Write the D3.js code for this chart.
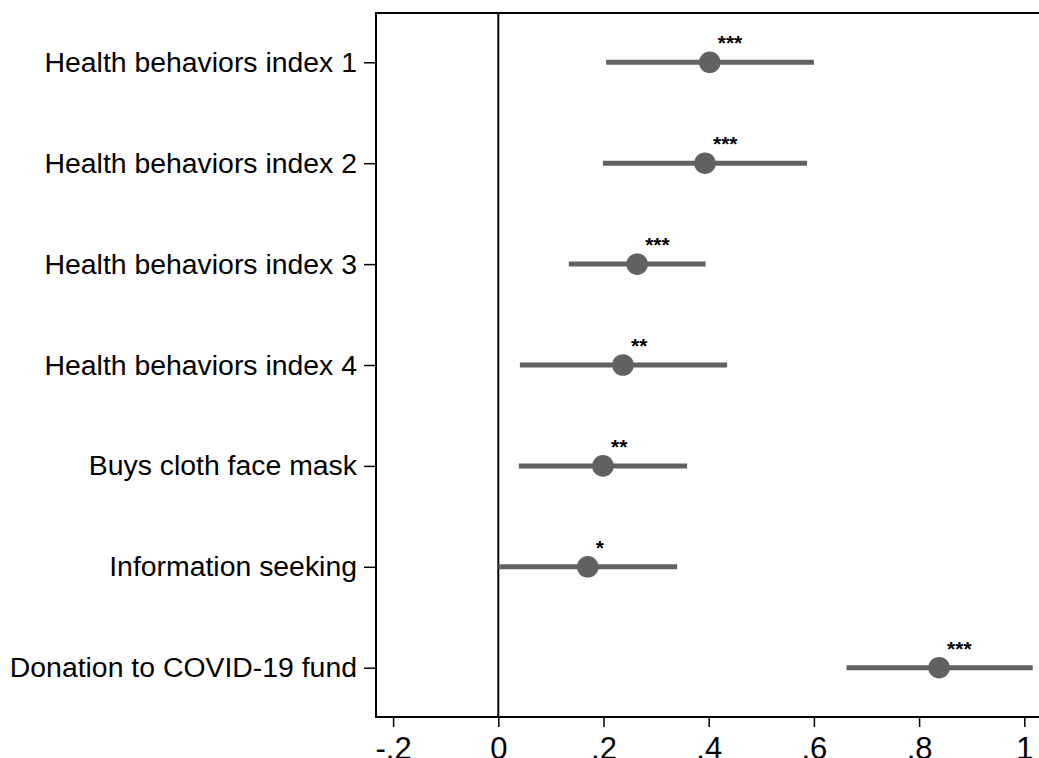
<!DOCTYPE html>
<html>
<head>
<meta charset="utf-8">
<script src="https://cdn.jsdelivr.net/npm/d3@7"></script>
<style>
  html, body { margin: 0; padding: 0; background: #fff; }
  svg { display: block; font-family: Arial, "Liberation Sans", sans-serif; }
</style>
</head>
<body>
<svg id="chart" width="1039" height="758"></svg>
<script>
// Coefficient estimates with 95% confidence intervals
const outcomes = [
  "Health behaviors index 1",
  "Health behaviors index 2",
  "Health behaviors index 3",
  "Health behaviors index 4",
  "Buys cloth face mask",
  "Information seeking",
  "Donation to COVID-19 fund"
];
const estimates = [0.402, 0.393, 0.264, 0.237, 0.199, 0.170, 0.838];
const ciLower   = [0.205, 0.199, 0.134, 0.041, 0.039, 0.000, 0.662];
const ciUpper   = [0.600, 0.587, 0.394, 0.435, 0.359, 0.340, 1.016];
const stars     = ["***", "***", "***", "**", "**", "*", "***"];
const xTicks    = [-0.2, 0, 0.2, 0.4, 0.6, 0.8, 1];
const xTickLabels = ["-.2", "0", ".2", ".4", ".6", ".8", "1"];

const svg = d3.select("#chart");
const frame = { left: 376, top: 13, bottom: 717, right: 1045 };

const x = d3.scaleLinear().domain([0, 1]).range([498.3, 1024.3]);
const y = d3.scalePoint().domain(outcomes).range([62.3, 667.7]);

const markColor = "#616161";
const fontFam = "Arial, 'Liberation Sans', sans-serif";

// Frame (top, left, bottom)
svg.append("path")
  .attr("d", `M${frame.right},${frame.top}H${frame.left}V${frame.bottom}H${frame.right}`)
  .attr("fill", "none").attr("stroke", "#000").attr("stroke-width", 2);

// Reference line at zero
svg.append("line")
  .attr("x1", x(0)).attr("x2", x(0))
  .attr("y1", frame.top).attr("y2", frame.bottom)
  .attr("stroke", "#000").attr("stroke-width", 2);

// X axis
const xAxis = d3.axisBottom(x)
  .tickValues(xTicks)
  .tickFormat((d, i) => xTickLabels[i])
  .tickSize(10).tickSizeOuter(0).tickPadding(10);
const gx = svg.append("g").attr("transform", `translate(0,${frame.bottom})`).call(xAxis);
gx.select(".domain").remove();
gx.selectAll(".tick line").attr("stroke", "#000").attr("stroke-width", 1.5);
gx.selectAll(".tick text")
  .attr("fill", "#000")
  .style("font-size", "31px")
  .style("font-family", fontFam);

// Y axis (category labels)
const yAxis = d3.axisLeft(y).tickSize(12).tickSizeOuter(0).tickPadding(7);
const gy = svg.append("g").attr("transform", `translate(${frame.left},0)`).call(yAxis);
gy.select(".domain").remove();
gy.selectAll(".tick line").attr("stroke", "#000").attr("stroke-width", 1.5);
gy.selectAll(".tick text")
  .attr("fill", "#000")
  .style("font-size", "28.4px")
  .style("font-family", fontFam);

// Confidence intervals
const rows = outcomes.map((o, i) => ({
  o, est: estimates[i], lo: ciLower[i], hi: ciUpper[i], s: stars[i]
}));

svg.append("g").selectAll("line")
  .data(rows).join("line")
  .attr("x1", d => x(d.lo)).attr("x2", d => x(d.hi))
  .attr("y1", d => y(d.o)).attr("y2", d => y(d.o))
  .attr("stroke", markColor).attr("stroke-width", 5);

// Point estimates
svg.append("g").selectAll("circle")
  .data(rows).join("circle")
  .attr("cx", d => x(d.est)).attr("cy", d => y(d.o))
  .attr("r", 10.8)
  .attr("fill", markColor);

// Significance stars
svg.append("g").selectAll("text")
  .data(rows).join("text")
  .attr("x", d => x(d.est) + 8)
  .attr("y", d => y(d.o) - 12)
  .attr("fill", "#000")
  .style("font-size", "21px")
  .style("font-weight", "bold")
  .style("font-family", fontFam)
  .text(d => d.s);
</script>
</body>
</html>
